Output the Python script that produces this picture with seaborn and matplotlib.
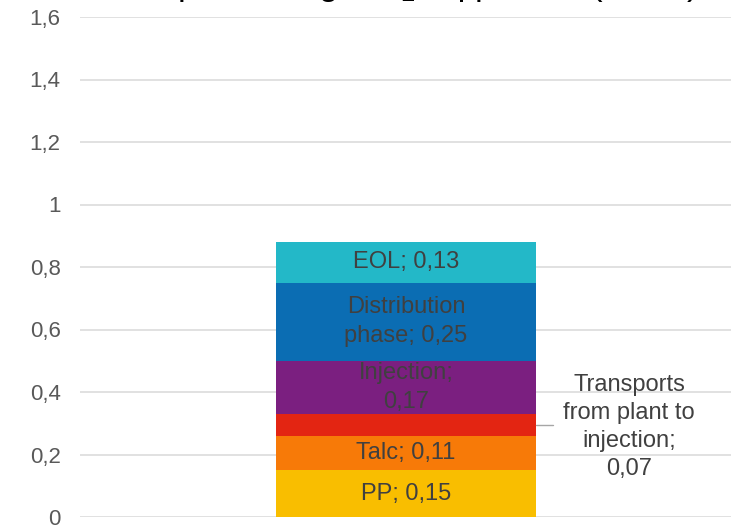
import numpy as np
import pandas as pd
import seaborn as sns
import matplotlib.pyplot as plt

# stage contributions (kg CO2 eq), bottom to top
stages = ["PP", "Talc", "Transports from plant to injection", "Injection", "Distribution phase", "EOL"]
values = [0.15, 0.11, 0.07, 0.17, 0.25, 0.13]
colors = ["#F9BE00", "#F77A08", "#E32512", "#7B1F80", "#0B6DB3", "#23B8C8"]
labels = ["PP; 0,15", "Talc; 0,11", "", "Injection;\n0,17", "Distribution\nphase; 0,25", "EOL; 0,13"]
side_label = "Transports\nfrom plant to\ninjection;\n0,07"
yticks = [0, 0.2, 0.4, 0.6, 0.8, 1.0, 1.2, 1.4, 1.6]
ytick_labels = ["0", "0,2", "0,4", "0,6", "0,8", "1", "1,2", "1,4", "1,6"]

sns.set_style("white")
plt.rcParams["font.family"] = ["Liberation Sans", "DejaVu Sans"]

df = pd.DataFrame({"stage": stages, "value": values})
df["top"] = df["value"].cumsum()
df["bottom"] = df["top"] - df["value"]

fig = plt.figure(figsize=(7.31, 5.26), dpi=100)
ax = fig.add_axes([80 / 731, 1 - 517 / 526, 652 / 731, 500 / 526])

for y in yticks:
    ax.axhline(y, color="#D9D9D9", lw=1.1, zorder=0)

# stacked bar: draw cumulative totals from the top layer down
for i in reversed(range(len(df))):
    sns.barplot(x=["x"], y=[df["top"][i]], color=colors[i], width=0.4,
                saturation=1, linewidth=0, ax=ax, zorder=2)

for i, row in df.iterrows():
    if labels[i]:
        ax.text(0, (row["top"] + row["bottom"]) / 2, labels[i], ha="center", va="center",
                fontsize=17, color="#404040", linespacing=1.4, zorder=3)

# leader line + label for the thin transport layer
mid = (df["top"][2] + df["bottom"][2]) / 2
ax.plot([0.2, 0.225], [mid, mid], color="#A6A6A6", lw=1, zorder=3)
ax.text(0.342, mid - 0.006, side_label, ha="center", va="center", fontsize=17,
        color="#404040", linespacing=1.36)

ax.set_xlim(-0.5, 0.5)
ax.set_ylim(0, 1.6)
ax.set_yticks(yticks)
ax.set_yticklabels(ytick_labels, fontsize=16, color="#595959")
ax.tick_params(axis="y", length=0, pad=14)
ax.set_xticks([])
ax.set_xlabel("")
ax.set_ylabel("")
for s in ax.spines.values():
    s.set_visible(False)

# title sits mostly above the visible area, as in the cropped original
fig.text(698 / 731, 1 + 5 / 526, "Carbon footprint, in kg CO$_2$ eq per FU (1 unit)", ha="right",
         va="baseline", fontsize=25, color="#000000")

fig.savefig("out.png", dpi=100)
